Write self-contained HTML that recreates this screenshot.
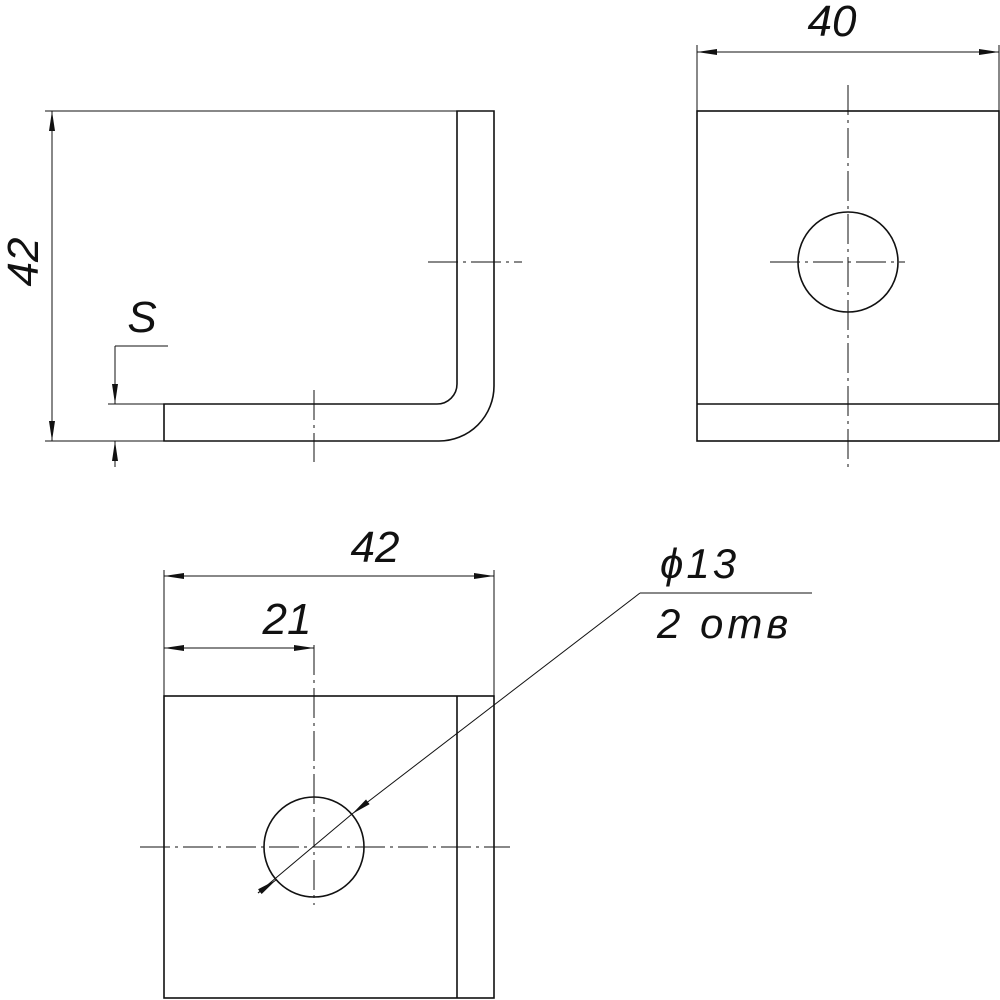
<!DOCTYPE html>
<html><head><meta charset="utf-8"><style>
html,body{margin:0;padding:0;background:#fff;width:1000px;height:1000px;overflow:hidden}
svg{display:block}
text{font-family:"Liberation Sans",sans-serif;font-style:italic;fill:#111}
</style></head><body>
<svg width="1000" height="1000" viewBox="0 0 1000 1000" xmlns="http://www.w3.org/2000/svg">
<defs>
<marker id="a" viewBox="0 0 20 6" refX="20" refY="3" markerWidth="20" markerHeight="6" markerUnits="userSpaceOnUse" orient="auto-start-reverse"><path d="M0,0 L20,3 L0,6 z" fill="#111"/></marker>
</defs>
<g stroke="#111" stroke-width="1.6" fill="none">
<path d="M494,111 L494,386 A55,55 0 0 1 439,441 L164,441 L164,404 L437,404 A20,20 0 0 0 457,384 L457,111 Z"/>
<g stroke-width="1">
<line x1="45" y1="111" x2="457" y2="111"/>
<line x1="45" y1="441" x2="164" y2="441"/>
<line x1="52" y1="111" x2="52" y2="441" marker-start="url(#a)" marker-end="url(#a)"/>
<line x1="108" y1="404" x2="164" y2="404"/>
<line x1="168" y1="346" x2="115" y2="346"/>
<line x1="115" y1="346" x2="115" y2="404" marker-end="url(#a)"/>
<line x1="115" y1="467" x2="115" y2="441" marker-end="url(#a)"/>
<line x1="428" y1="262" x2="522" y2="262" stroke-dasharray="30,5,3,5"/>
<line x1="314" y1="390" x2="314" y2="462" stroke-dasharray="30,5,3,5"/>
</g>
<rect x="697" y="111" width="302" height="330"/>
<line x1="697" y1="404" x2="999" y2="404"/>
<circle cx="848" cy="262" r="50"/>
<g stroke-width="1">
<line x1="697" y1="45" x2="697" y2="111"/>
<line x1="999" y1="45" x2="999" y2="111"/>
<line x1="697" y1="52" x2="999" y2="52" marker-start="url(#a)" marker-end="url(#a)"/>
<line x1="848" y1="85" x2="848" y2="472" stroke-dasharray="30,5,3,5"/>
<line x1="770" y1="262" x2="905" y2="262" stroke-dasharray="30,5,3,5"/>
</g>
<rect x="164" y="696" width="330" height="302"/>
<line x1="457" y1="696" x2="457" y2="998"/>
<circle cx="314" cy="847" r="50"/>
<g stroke-width="1">
<line x1="164" y1="570" x2="164" y2="696"/>
<line x1="494" y1="570" x2="494" y2="696"/>
<line x1="164" y1="576" x2="494" y2="576" marker-start="url(#a)" marker-end="url(#a)"/>
<line x1="164" y1="648" x2="314" y2="648" marker-start="url(#a)" marker-end="url(#a)"/>
<line x1="314" y1="645" x2="314" y2="905" stroke-dasharray="30,5,3,5"/>
<line x1="140" y1="847" x2="510" y2="847" stroke-dasharray="30,5,3,5"/>
<line x1="812" y1="593" x2="640" y2="593"/>
<line x1="640" y1="593" x2="352" y2="814" marker-end="url(#a)"/>
<line x1="352" y1="814" x2="258" y2="893"/>
<line x1="258" y1="893" x2="276" y2="880" marker-end="url(#a)"/>
</g>
</g>
<text x="0" y="0" font-size="44" transform="translate(38,262) rotate(-90)" text-anchor="middle">42</text>
<text x="142" y="332" font-size="44" text-anchor="middle">S</text>
<text x="832" y="36" font-size="44" text-anchor="middle">40</text>
<text x="375" y="562" font-size="44" text-anchor="middle">42</text>
<text x="287" y="634" font-size="44" text-anchor="middle">21</text>
<text x="660" y="578" font-size="42" letter-spacing="3">ϕ13</text>
<text x="657" y="638" font-size="42" letter-spacing="4">2 отв</text>
</svg>
</body></html>
